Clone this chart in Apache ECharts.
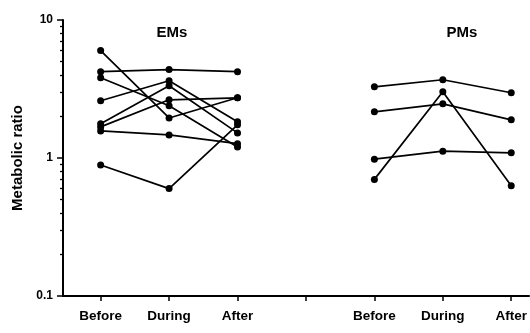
<!DOCTYPE html>
<html>
<head>
<meta charset="utf-8">
<script src="https://cdn.jsdelivr.net/npm/echarts@6/dist/echarts.min.js"></script>
<style>
html,body{margin:0;padding:0;background:#fff;}
#chart{width:530px;height:333px;}
</style>
</head>
<body>
<div id="chart"></div>
<script>
// Category slots along x (slot 3 is the empty gap between groups)
const categories = ['Before', 'During', 'After', '', 'Before', 'During', 'After'];
const emsSlots = [0, 1, 2];
const pmsSlots = [4, 5, 6];

// EMs subjects: Before, During, After
const ems1 = [4.22, 4.37, 4.22];
const ems2 = [0.89, 0.60, 1.74];
const ems3 = [1.57, 1.47, 1.27];
const ems4 = [6.0, 1.95, 2.73];
const ems5 = [2.60, 3.63, 1.83];
const ems6 = [1.77, 3.34, 1.52];
const ems7 = [1.68, 2.64, 2.73];
const ems8 = [3.82, 2.39, 1.20];

// PMs subjects: Before, During, After
const pms1 = [3.28, 3.69, 2.97];
const pms2 = [2.16, 2.47, 1.89];
const pms3 = [0.98, 1.12, 1.09];
const pms4 = [0.70, 3.02, 0.63];

// Y axis ticks
const yMajorTicks = [0.1, 1, 10];
const yMinorTicks = [0.2, 0.3, 0.4, 0.5, 0.6, 0.7, 0.8, 0.9, 2, 3, 4, 5, 6, 7, 8, 9];
const groupTitles = ['EMs', 'PMs'];

const emsLines = [ems1, ems2, ems3, ems4, ems5, ems6, ems7, ems8];
const pmsLines = [pms1, pms2, pms3, pms4];

function makeSeries(values, slots) {
  return {
    type: 'line',
    data: values.map((v, i) => [slots[i], v]),
    symbol: 'circle',
    symbolSize: 7,
    itemStyle: { color: '#000' },
    lineStyle: { color: '#000', width: 1.7 },
    emphasis: { disabled: true },
    z: 3
  };
}

const series = []
  .concat(emsLines.map(v => makeSeries(v, emsSlots)))
  .concat(pmsLines.map(v => makeSeries(v, pmsSlots)));

const chart = echarts.init(document.getElementById('chart'), null, { renderer: 'canvas' });
const fontFamily = 'Liberation Sans, Arial, sans-serif';
const labelFont = { fontFamily: fontFamily, color: '#000', fontWeight: 'bold' };

chart.setOption({
  animation: false,
  backgroundColor: '#fff',
  grid: { left: 63, right: 0, top: 20, bottom: 37 },
  xAxis: {
    type: 'value',
    min: -0.55,
    max: 6.26,
    axisLine: { show: true, onZero: false, lineStyle: { color: '#000', width: 2 } },
    axisTick: {
      show: true, length: 5, inside: false,
      customValues: categories.map((c, i) => i),
      lineStyle: { color: '#000', width: 1.5 }
    },
    axisLabel: {
      show: true,
      customValues: categories.map((c, i) => i).filter(i => categories[i] !== ''),
      formatter: v => categories[Math.round(v)],
      margin: 13,
      fontSize: 13.5,
      ...labelFont
    },
    splitLine: { show: false }
  },
  yAxis: [
    {
      type: 'log',
      logBase: 10,
      min: 0.1,
      max: 10,
      name: 'Metabolic ratio',
      nameLocation: 'middle',
      nameGap: 36,
      nameTextStyle: { fontSize: 15, ...labelFont },
      axisLine: { show: true, onZero: false, lineStyle: { color: '#000', width: 2 } },
      axisTick: {
        show: true, length: 6, inside: false,
        customValues: yMajorTicks,
        lineStyle: { color: '#000', width: 1.5 }
      },
      axisLabel: {
        customValues: yMajorTicks,
        formatter: v => String(v),
        margin: 10,
        fontSize: 12,
        ...labelFont
      },
      splitLine: { show: false }
    },
    {
      type: 'log',
      logBase: 10,
      min: 0.1,
      max: 10,
      position: 'left',
      offset: 0,
      axisLine: { show: false, onZero: false },
      axisTick: {
        show: true, length: 3, inside: false,
        customValues: yMinorTicks,
        lineStyle: { color: '#000', width: 1.3 }
      },
      axisLabel: { show: false },
      splitLine: { show: false }
    }
  ],
  graphic: [
    {
      type: 'text', x: 172, y: 33,
      style: { text: groupTitles[0], fontSize: 15, fontWeight: 'bold', fontFamily: fontFamily, fill: '#000', align: 'center', verticalAlign: 'middle' }
    },
    {
      type: 'text', x: 462, y: 33,
      style: { text: groupTitles[1], fontSize: 15, fontWeight: 'bold', fontFamily: fontFamily, fill: '#000', align: 'center', verticalAlign: 'middle' }
    }
  ],
  series: series
});
</script>
</body>
</html>
